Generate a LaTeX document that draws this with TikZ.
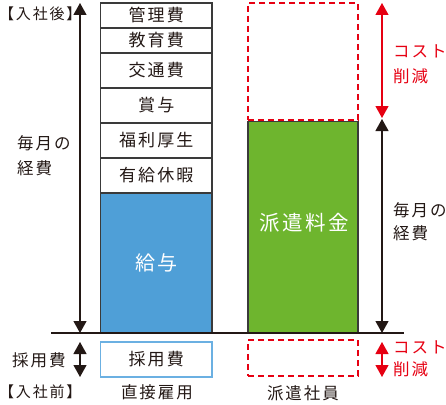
\documentclass[tikz,border=0pt]{standalone}
\usepackage{fontspec}
\newfontfamily\jp[LetterSpace=12]{Noto Sans CJK JP}
\usetikzlibrary{arrows.meta}
\definecolor{ink}{HTML}{231815}
\definecolor{edge}{HTML}{3A3A3A}
\definecolor{bluefill}{HTML}{4F9FD7}
\definecolor{blueedge}{HTML}{6BB0E2}
\definecolor{greenfill}{HTML}{6EB52E}
\definecolor{cut}{HTML}{E60012}
\tikzset{
  box/.style={draw=edge, line width=1.4pt, fill=white, text=ink, inner sep=0pt,
    font={\jp\fontsize{17}{20}\selectfont}},
  lbl/.style={text=ink, inner sep=0pt, font={\jp\fontsize{16.5}{25}\selectfont}},
  redlbl/.style={text=cut, inner sep=0pt, font={\jp\fontsize{16.5}{24}\selectfont}},
  cutbox/.style={draw=cut, line width=1.4pt, dash pattern=on 6pt off 4pt, inner sep=0pt},
  blkarrow/.style={draw=ink, line width=1.2pt, {Triangle[width=13pt,length=12pt]}-{Triangle[width=13pt,length=12pt]}},
  redarrow/.style={draw=cut, line width=1.2pt, {Triangle[width=13pt,length=12pt]}-{Triangle[width=13pt,length=12pt]}},
}
\begin{document}
\begin{tikzpicture}[x=1pt,y=-1pt]
\useasboundingbox (0,0) rectangle (446,404);
% left column
\node[box, minimum width=111.5pt, minimum height=25pt] (kanri) at (156.25,15.5) {管理費};
\node[box, minimum width=111.5pt, minimum height=25pt] (kyoiku) at (156.25,40.5) {教育費};
\node[box, minimum width=111.5pt, minimum height=35pt] (kotsu) at (156.25,70.5) {交通費};
\node[box, minimum width=111.5pt, minimum height=35pt] (shoyo) at (156.25,105.5) {賞与};
\node[box, minimum width=111.5pt, minimum height=35pt] (fukuri) at (156.25,140.5) {福利厚生};
\node[box, minimum width=111.5pt, minimum height=35pt] (yukyu) at (156.25,175.5) {有給休暇};
\node[box, fill=bluefill, text=white, minimum width=111.5pt, minimum height=140pt,
  font={\jp\fontsize{20}{24}\selectfont}] (kyuyo) at (156.25,263) {給与};
\node[box, draw=blueedge, line width=1.2pt, minimum width=111.5pt, minimum height=35pt] (saiyo) at (156.25,359.5) {採用費};
% right column
\node[cutbox, minimum width=110pt, minimum height=117pt] (cuttop) at (303,61.5) {};
\node[box, fill=greenfill, text=white, minimum width=110pt, minimum height=212pt,
  font={\jp\fontsize{20}{24}\selectfont}, anchor=north] (haken) at (303,121) {};
\node[text=white, inner sep=0pt, font={\jp\fontsize{20.5}{24}\selectfont}] (hakenlbl) at (304,223) {派遣料金};
\node[cutbox, minimum width=110pt, minimum height=36pt] (cutbot) at (303,358) {};
% baseline
\coordinate (bl) at (51,333);
\coordinate (br) at (404,333);
\draw[draw=ink, line width=1.2pt] (bl) -- (br);
% arrows
\coordinate (la1) at (80,3);
\coordinate (la2) at (80,333);
\draw[blkarrow] (la1) -- (la2);
\coordinate (lb1) at (80,342);
\coordinate (lb2) at (80,377);
\draw[blkarrow] (lb1) -- (lb2);
\coordinate (ra1) at (382,3);
\coordinate (ra2) at (382,118);
\draw[redarrow] (ra1) -- (ra2);
\coordinate (rb1) at (382,119);
\coordinate (rb2) at (382,333);
\draw[blkarrow] (rb1) -- (rb2);
\coordinate (rc1) at (382,342);
\coordinate (rc2) at (382,377);
\draw[redarrow] (rc1) -- (rc2);
% labels
\node[lbl, anchor=west, font={\jp\fontsize{15}{20}\selectfont}] (after) at (-1,14) {【入社後】};
\node[lbl, anchor=west, align=left] (monthL) at (17,155.5) {毎月の\\経費};
\node[lbl, anchor=west] (saiyoL) at (12,360) {採用費};
\node[lbl, anchor=west, font={\jp\fontsize{15}{20}\selectfont}] (before) at (-1,392) {【入社前】};
\node[lbl] (direct) at (157,392) {直接雇用};
\node[lbl] (temp) at (303,393) {派遣社員};
\node[redlbl, anchor=west, align=left, font={\jp\fontsize{16.5}{25}\selectfont}] (cut1) at (393,64.5) {コスト\\削減};
\node[lbl, anchor=west, align=left, font={\jp\fontsize{16.5}{23}\selectfont}] (monthR) at (393,221.5) {毎月の\\経費};
\node[redlbl, anchor=west, align=left, font={\jp\fontsize{16.5}{22}\selectfont}] (cut2) at (393,359) {コスト\\削減};
\end{tikzpicture}
\end{document}
